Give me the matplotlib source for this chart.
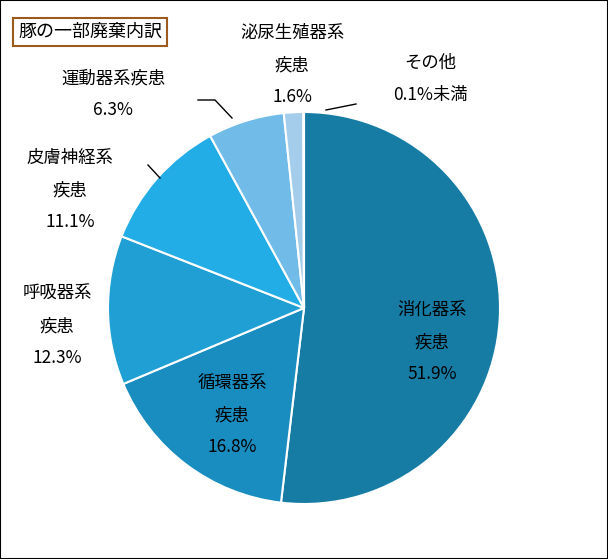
import matplotlib
matplotlib.use("Agg")
import matplotlib.pyplot as plt
from matplotlib.patches import Rectangle

plt.rcParams["font.family"] = "Noto Sans CJK JP"

# ===== データ =====
labels = ["消化器系\n疾患", "循環器系\n疾患", "呼吸器系\n疾患", "皮膚神経系\n疾患",
          "運動器系疾患", "泌尿生殖器系\n疾患", "その他"]
values = [51.9, 16.8, 12.3, 11.1, 6.3, 1.6, 0.05]
pct_text = ["51.9%", "16.8%", "12.3%", "11.1%", "6.3%", "1.6%", "0.1%未満"]
colors = ["#167ca4", "#1a8dc0", "#1f9fd4", "#22ade6", "#70bbe8", "#a3cdea", "#c5dff0"]

W, H = 608, 559
fig = plt.figure(figsize=(W / 100, H / 100), dpi=100)
ax = fig.add_axes([0, 0, 1, 1])
ax.set_xlim(0, W)
ax.set_ylim(0, H)
ax.set_aspect("equal")
ax.axis("off")

def py(y):
    return H - y

ax.pie(values, colors=colors, startangle=90, counterclock=False,
       center=(304, py(308)), radius=196,
       wedgeprops=dict(edgecolor="white", linewidth=1.5))
ax.set_xlim(0, W)
ax.set_ylim(0, H)

fs = 12.5
# ラベル位置 (ピクセル)
pos = [(432, 342), (232, 415), (57, 326), (70, 190), (113, 94), (292, 65), (430, 79)]
for (x, y), lab, p in zip(pos, labels, pct_text):
    ax.text(x, py(y), lab + "\n" + p, ha="center", va="center", fontsize=fs,
            linespacing=2.0)

# 引き出し線
ax.plot([148, 160], [py(165), py(178)], color="black", lw=1)
ax.plot([198, 215, 232], [py(100), py(100), py(118)], color="black", lw=1)
ax.plot([326, 356], [py(110), py(104)], color="black", lw=1)

# タイトル
ax.text(18, py(32), "豚の一部廃棄内訳", ha="left", va="center", fontsize=13,
        bbox=dict(boxstyle="square,pad=0.3", fc="white", ec="#9c5a1e", lw=1.5))

fig.patches.append(Rectangle((0, 0), 1, 1, transform=fig.transFigure,
                             fill=False, ec="black", lw=1.5))
fig.savefig("out.png", dpi=100)
